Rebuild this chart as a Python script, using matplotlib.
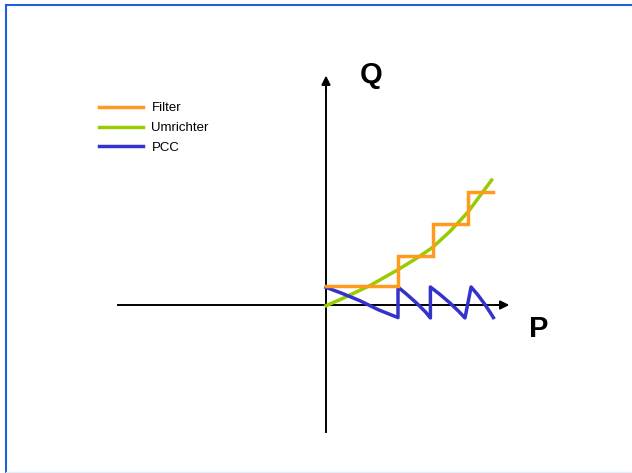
import numpy as np
import matplotlib
matplotlib.use("Agg")
import matplotlib.pyplot as plt
from matplotlib.lines import Line2D

plt.rcParams['font.family'] = ['Liberation Sans', 'DejaVu Sans']

# Filter: stepped reactive power
filter_p = [0.0, 1.99, 1.99, 2.96, 2.96, 3.94, 3.94, 4.64]
filter_q = [0.53, 0.53, 1.36, 1.36, 2.25, 2.25, 3.14, 3.14]

# Umrichter: smooth rising curve
umr_p = [0.0, 0.48, 1.22, 1.98, 2.52, 2.96, 3.44, 3.95, 4.60]
umr_q = [-0.02, 0.19, 0.54, 0.97, 1.30, 1.60, 2.04, 2.59, 3.47]

# PCC: sawtooth
pcc_p = [0.0, 0.43, 0.94, 1.45, 2.0,
         2.0, 2.25, 2.52, 2.76, 2.9,
         2.9, 3.17, 3.45, 3.70, 3.86,
         4.03, 4.21, 4.39, 4.55, 4.65]
pcc_q = [0.49, 0.33, 0.12, -0.13, -0.35,
         0.5, 0.29, 0.05, -0.19, -0.36,
         0.5, 0.29, 0.05, -0.19, -0.36,
         0.5, 0.29, 0.05, -0.19, -0.35]

labels = ['Filter', 'Umrichter', 'PCC']
colors = ['#ff9a1e', '#99cc00', '#3333cc']

fig = plt.figure(figsize=(6.32, 4.73), dpi=100)
ax = fig.add_axes([0, 0, 1, 1])
ax.set_xlim(-326/36, (632-326)/36)
ax.set_ylim((305-473)/36, 305/36)
ax.axis('off')

# axes with arrows
ax.plot([-5.78, 5.0], [0, 0], color='k', lw=1.4)
ax.plot([0, 0], [-3.53, 6.2], color='k', lw=1.4)
ax.annotate('', xy=(5.17, 0), xytext=(4.6, 0),
            arrowprops=dict(arrowstyle='-|>', color='k', lw=1.4, mutation_scale=13))
ax.annotate('', xy=(0, 6.45), xytext=(0, 5.9),
            arrowprops=dict(arrowstyle='-|>', color='k', lw=1.4, mutation_scale=13))
ax.text(1.25, 6.39, 'Q', fontsize=21, fontweight='bold', ha='center', va='center')
ax.text(5.92, -0.68, 'P', fontsize=21, fontweight='bold', ha='center', va='center')

l1, = ax.plot(filter_p, filter_q, color=colors[0], lw=2.5, solid_joinstyle='miter', zorder=3)
l2, = ax.plot(umr_p, umr_q, color=colors[1], lw=2.5, zorder=2)
l3, = ax.plot(pcc_p, pcc_q, color=colors[2], lw=2.5, zorder=2)

leg = ax.legend([l1, l2, l3], labels, loc='upper left',
                bbox_to_anchor=(99/632, 1 - 102/473), frameon=False,
                fontsize=9.5, handlelength=3.33, handletextpad=0.64,
                labelspacing=0.58, borderaxespad=0, borderpad=0)

# frame lines (left and top in blue, faint bottom)
fig.add_artist(Line2D([6/632, 6/632], [0, 1 - 5/473], color='#1f60da', lw=1.5))
fig.add_artist(Line2D([6/632, 1], [1 - 5/473, 1 - 5/473], color='#1f60da', lw=1.5))
fig.add_artist(Line2D([6/632, 1], [1.5/473, 1.5/473], color='#e6edf8', lw=1))

fig.savefig('out.png', dpi=100)
